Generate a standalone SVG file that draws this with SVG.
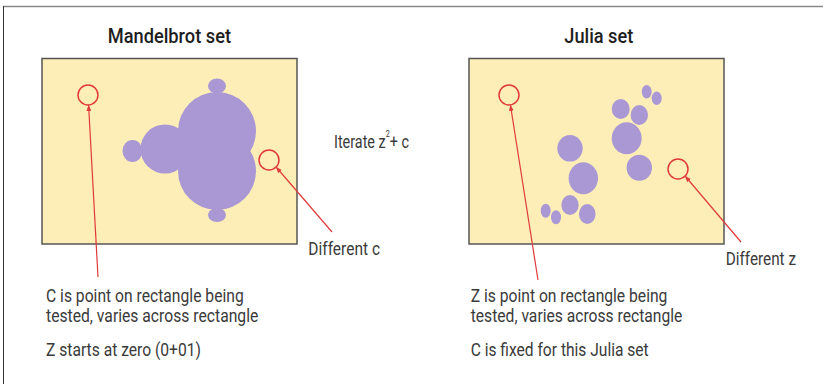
<svg xmlns="http://www.w3.org/2000/svg" width="823" height="385" viewBox="0 0 823 385">
<defs>
<style>
.title{font-family:Roboto,"Liberation Sans",sans-serif;font-size:21px;font-weight:500;fill:#1e1e1e}
.lbl{font-family:Roboto,"Liberation Sans",sans-serif;font-size:18px;fill:#3a3a3a}
.panel{fill:#fdeeb8;stroke:#555;stroke-width:1.5}
.blob{fill:#a998d4}
.ring{fill:none;stroke:#e03a3a;stroke-width:1.5}
.conn{fill:none;stroke:#e03a3a;stroke-width:1.2;marker-end:url(#ah)}
</style>
<marker id="ah" viewBox="0 0 10 10" refX="9" refY="5" markerWidth="6" markerHeight="6" orient="auto" markerUnits="userSpaceOnUse">
<path d="M0,1 L10,5 L0,9 Z" fill="#e03a3a"/>
</marker>
</defs>
<rect width="823" height="385" fill="#fff"/>
<g id="frame">
<line x1="3" y1="6.5" x2="823" y2="6.5" stroke="#8a8a8a" stroke-width="1.6"/>
<line x1="3.5" y1="6" x2="3.5" y2="384" stroke="#333" stroke-width="1"/>
</g>
<g id="mandelbrot">
<text class="title" x="107.7" y="43" textLength="123.3" lengthAdjust="spacingAndGlyphs">Mandelbrot set</text>
<rect class="panel" x="42" y="58.5" width="255" height="185.5"/>
<g class="blob-group">
<ellipse class="blob" cx="217" cy="86" rx="9" ry="7.5"/>
<ellipse class="blob" cx="217" cy="215" rx="9" ry="7"/>
<ellipse class="blob" cx="132.5" cy="151" rx="10" ry="11"/>
<circle class="blob" cx="165" cy="149" r="24.5"/>
<circle class="blob" cx="217" cy="131" r="39"/>
<circle class="blob" cx="217" cy="171" r="39"/>
</g>
<circle class="ring" cx="88" cy="95" r="10"/>
<circle class="ring" cx="269" cy="160" r="10"/>
</g>
<g id="julia">
<text class="title" x="564.3" y="43" textLength="69" lengthAdjust="spacingAndGlyphs">Julia set</text>
<rect class="panel" x="469" y="58.5" width="255" height="185.5"/>
<ellipse class="blob" cx="646.7" cy="91.7" rx="5" ry="6.7"/>
<ellipse class="blob" cx="656.7" cy="98.3" rx="5" ry="6.7"/>
<ellipse class="blob" cx="620.7" cy="109" rx="9" ry="10"/>
<ellipse class="blob" cx="639.3" cy="115" rx="8.7" ry="10"/>
<ellipse class="blob" cx="626.7" cy="138.3" rx="15" ry="16"/>
<ellipse class="blob" cx="639.3" cy="167.7" rx="12.7" ry="13"/>
<ellipse class="blob" cx="570" cy="148.3" rx="12.7" ry="13.3"/>
<ellipse class="blob" cx="583.3" cy="178.3" rx="14.7" ry="16"/>
<ellipse class="blob" cx="570" cy="205" rx="8.7" ry="10"/>
<ellipse class="blob" cx="587.3" cy="214" rx="8.3" ry="10"/>
<ellipse class="blob" cx="545.7" cy="210.7" rx="5" ry="7"/>
<ellipse class="blob" cx="556" cy="217.3" rx="5" ry="7"/>
<circle class="ring" cx="509" cy="95" r="10"/>
<circle class="ring" cx="678" cy="169" r="10"/>
</g>
<g id="connectors">
<line class="conn" x1="98" y1="277" x2="88.6" y2="105.5"/>
<line class="conn" x1="332" y1="232" x2="276.5" y2="167.5"/>
<line class="conn" x1="538" y1="280" x2="510.5" y2="105.5"/>
<line class="conn" x1="741" y1="242" x2="685.5" y2="176.5"/>
</g>
<g id="labels">
<text class="lbl" x="334" y="148.3" textLength="75" lengthAdjust="spacingAndGlyphs">Iterate z<tspan dy="-11" font-size="9">2</tspan><tspan dy="11">+ c</tspan></text>
<text class="lbl" x="308.3" y="255" textLength="71.7" lengthAdjust="spacingAndGlyphs">Different c</text>
<text class="lbl" x="725.7" y="265" textLength="70.3" lengthAdjust="spacingAndGlyphs">Different z</text>
<text class="lbl" x="46" y="302" textLength="197.7" lengthAdjust="spacingAndGlyphs">C is point on rectangle being</text>
<text class="lbl" x="46" y="322" textLength="212.3" lengthAdjust="spacingAndGlyphs">tested, varies across rectangle</text>
<text class="lbl" x="46" y="356" textLength="155" lengthAdjust="spacingAndGlyphs">Z starts at zero (0+01)</text>
<text class="lbl" x="470.7" y="302" textLength="196.7" lengthAdjust="spacingAndGlyphs">Z is point on rectangle being</text>
<text class="lbl" x="470.7" y="322" textLength="211.7" lengthAdjust="spacingAndGlyphs">tested, varies across rectangle</text>
<text class="lbl" x="470.7" y="356" textLength="178" lengthAdjust="spacingAndGlyphs">C is fixed for this Julia set</text>
</g>
</svg>
